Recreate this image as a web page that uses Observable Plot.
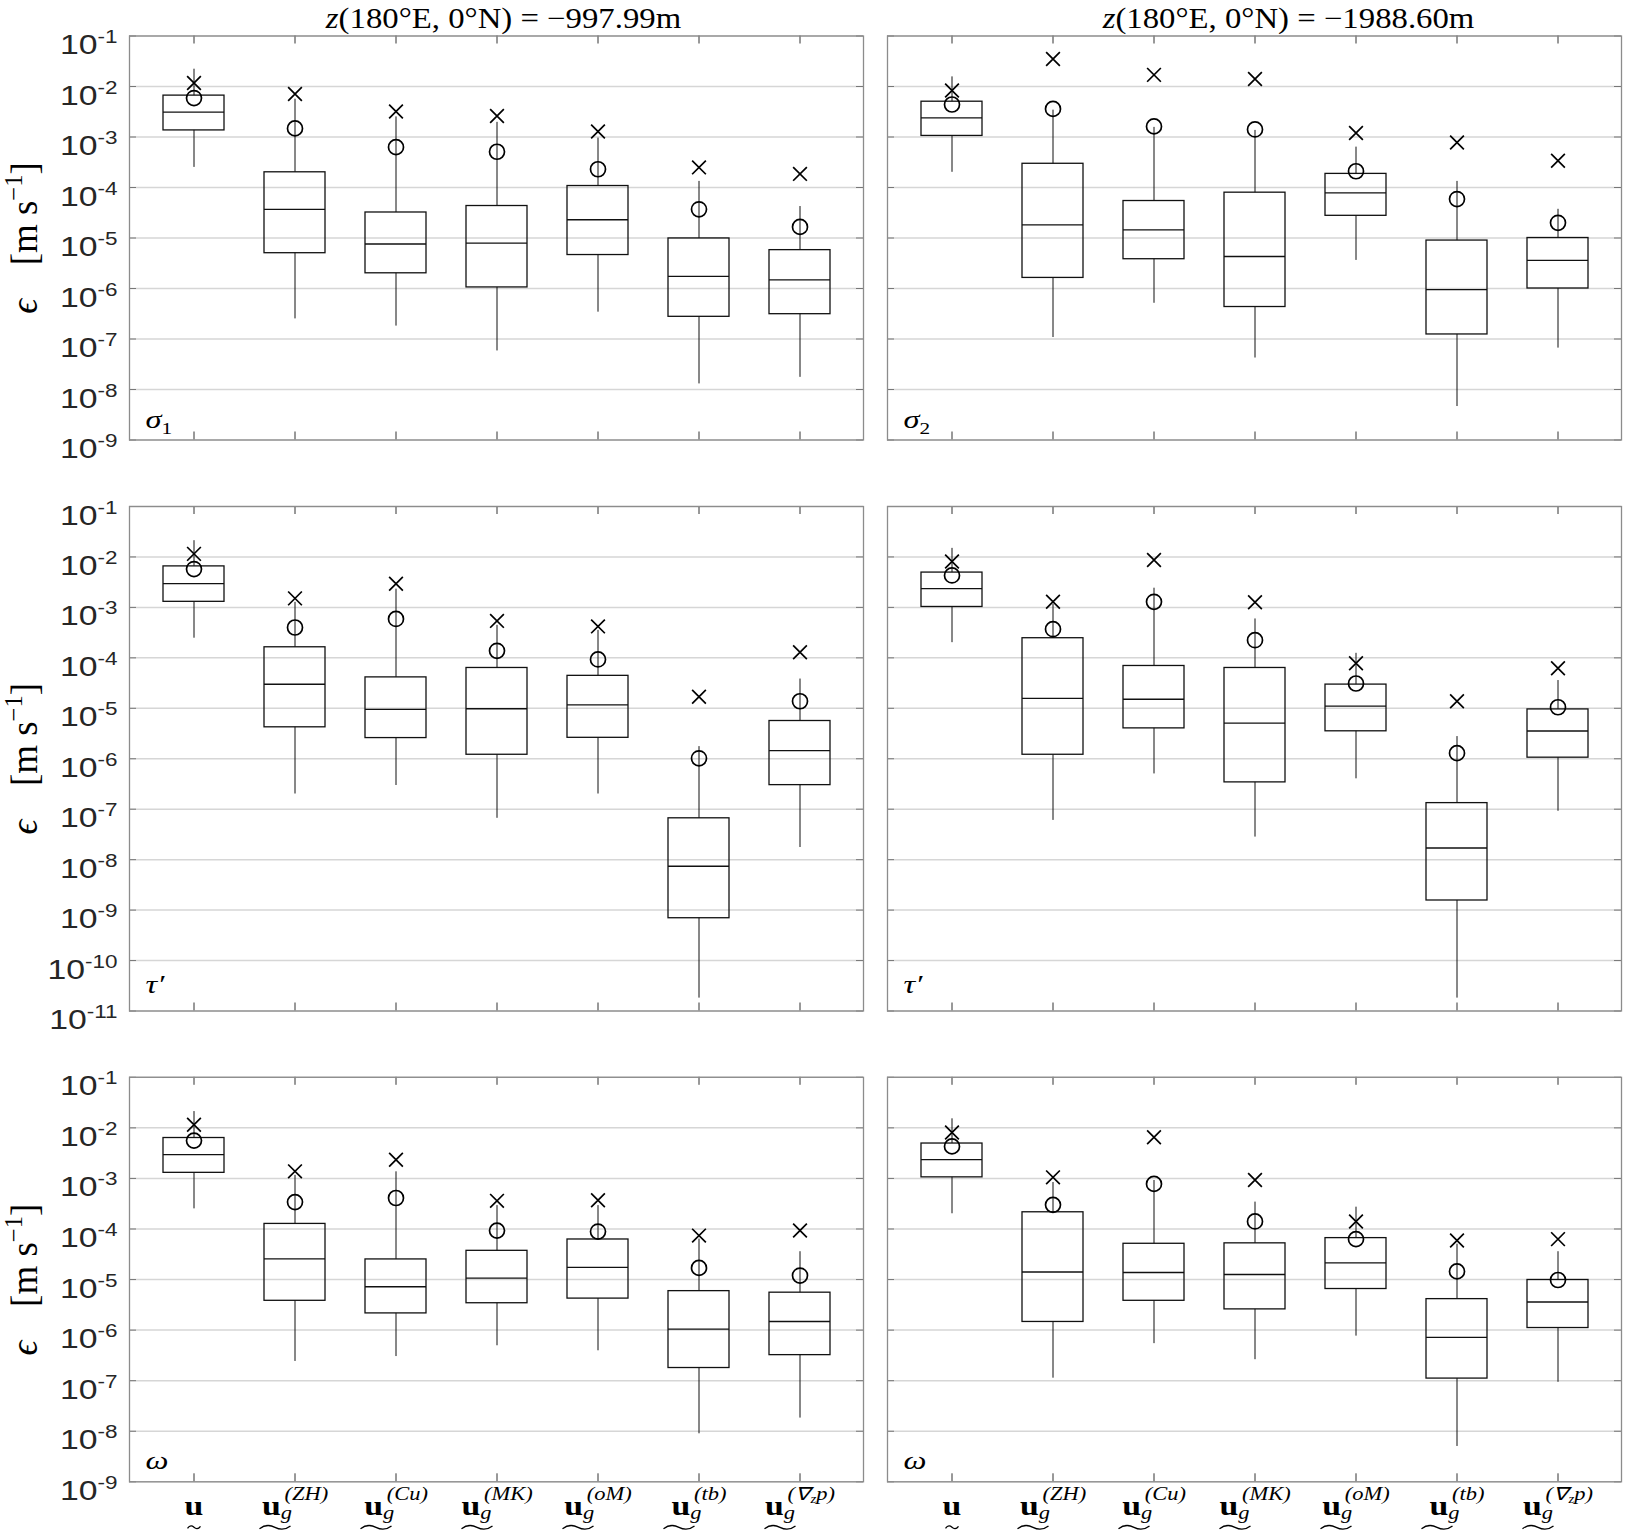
<!DOCTYPE html>
<html>
<head>
<meta charset="utf-8">
<script src="https://cdn.jsdelivr.net/npm/d3@7"></script>
<script src="https://cdn.jsdelivr.net/npm/@observablehq/plot@0.6"></script>
<style>
  body { margin: 0; background: #fff; }
  #fig { position: relative; width: 1628px; height: 1536px; background: #fff; overflow: hidden; }
  #fig svg { position: absolute; overflow: visible; }
</style>
</head>
<body>
<div id="fig"></div>
<script>
// ---------------- categories & labels ----------------
const categories = ["u", "ug(ZH)", "ug(Cu)", "ug(MK)", "ug(oM)", "ug(tb)", "ug(∇zp)"];
const catSub = ["", "g", "g", "g", "g", "g", "g"];
const catSup = ["", "(ZH)", "(Cu)", "(MK)", "(oM)", "(tb)", "(∇zp)"];

const yTicks8 = [1e-1, 1e-2, 1e-3, 1e-4, 1e-5, 1e-6, 1e-7, 1e-8, 1e-9];
const yTickLabels8 = ["10^-1", "10^-2", "10^-3", "10^-4", "10^-5", "10^-6", "10^-7", "10^-8", "10^-9"];
const yTicks10 = [1e-1, 1e-2, 1e-3, 1e-4, 1e-5, 1e-6, 1e-7, 1e-8, 1e-9, 1e-10, 1e-11];
const yTickLabels10 = ["10^-1", "10^-2", "10^-3", "10^-4", "10^-5", "10^-6", "10^-7", "10^-8", "10^-9", "10^-10", "10^-11"];

const titles = ["z(180°E, 0°N) = −997.99m", "z(180°E, 0°N) = −1988.60m"];
const yLabelSymbol = "ϵ";
const yLabelUnit = "m s";
const yLabelExp = "−1";
const yLabel = yLabelSymbol + " [" + yLabelUnit + yLabelExp + "]";
const panelLabels = ["σ1", "σ2", "τ′", "τ′", "ω", "ω"];

// ---------------- data ----------------
// each row: [whisker low, Q1, median, Q3, whisker high, mean (o), max (x)]
const sigma1Shallow = [
  [2.5e-4, 1.35e-3, 3.1e-3, 6.6e-3, 2.2e-2, 5.9e-3, 1.17e-2],
  [2.5e-7, 5.0e-6, 3.7e-5, 2.0e-4, 5.6e-3, 1.48e-3, 7.1e-3],
  [1.8e-7, 2.0e-6, 7.6e-6, 3.2e-5, 2.5e-3, 6.3e-4, 3.2e-3],
  [5.8e-8, 1.05e-6, 7.9e-6, 4.3e-5, 1.95e-3, 5.1e-4, 2.6e-3],
  [3.4e-7, 4.6e-6, 2.3e-5, 1.07e-4, 9.5e-4, 2.3e-4, 1.29e-3],
  [1.29e-8, 2.75e-7, 1.74e-6, 9.8e-6, 1.32e-4, 3.7e-5, 2.5e-4],
  [1.74e-8, 3.1e-7, 1.48e-6, 5.75e-6, 4.2e-5, 1.66e-5, 1.86e-4]
];
const sigma2Deep = [
  [2.0e-4, 1.05e-3, 2.4e-3, 5.0e-3, 1.55e-2, 4.4e-3, 8.3e-3],
  [1.07e-7, 1.62e-6, 1.82e-5, 2.95e-4, 3.4e-3, 3.6e-3, 3.5e-2],
  [5.1e-7, 3.8e-6, 1.45e-5, 5.4e-5, 1.55e-3, 1.62e-3, 1.7e-2],
  [4.2e-8, 4.3e-7, 4.3e-6, 7.9e-5, 1.35e-3, 1.41e-3, 1.41e-2],
  [3.6e-6, 2.75e-5, 7.8e-5, 1.86e-4, 6.3e-4, 2.1e-4, 1.2e-3],
  [4.6e-9, 1.23e-7, 9.5e-7, 8.9e-6, 1.32e-4, 5.9e-5, 7.8e-4],
  [6.6e-8, 1.0e-6, 3.6e-6, 1.0e-5, 3.7e-5, 2.0e-5, 3.4e-4]
];
const tauShallow = [
  [2.45e-4, 1.29e-3, 2.95e-3, 6.5e-3, 2.1e-2, 5.75e-3, 1.15e-2],
  [2.0e-7, 4.2e-6, 3.0e-5, 1.62e-4, 1.26e-3, 4.0e-4, 1.51e-3],
  [2.95e-7, 2.57e-6, 9.5e-6, 4.1e-5, 2.3e-3, 5.9e-4, 2.95e-3],
  [6.6e-8, 1.2e-6, 9.8e-6, 6.3e-5, 4.4e-4, 1.38e-4, 5.4e-4],
  [2.0e-7, 2.6e-6, 1.17e-5, 4.4e-5, 3.5e-4, 9.3e-5, 4.2e-4],
  [1.8e-11, 6.9e-10, 7.4e-9, 6.6e-8, 1.74e-6, 1.02e-6, 1.7e-5],
  [1.74e-8, 3.0e-7, 1.45e-6, 5.6e-6, 3.8e-5, 1.38e-5, 1.29e-4]
];
const tauDeep = [
  [2.0e-4, 1.02e-3, 2.35e-3, 4.9e-3, 1.48e-2, 4.3e-3, 8.1e-3],
  [6.0e-8, 1.2e-6, 1.58e-5, 2.45e-4, 1.15e-3, 3.7e-4, 1.29e-3],
  [5.0e-7, 4.0e-6, 1.51e-5, 6.9e-5, 2.4e-3, 1.29e-3, 8.7e-3],
  [2.8e-8, 3.4e-7, 5.1e-6, 6.3e-5, 5.9e-4, 2.24e-4, 1.26e-3],
  [4.0e-7, 3.5e-6, 1.1e-5, 2.95e-5, 1.23e-4, 3.1e-5, 7.8e-5],
  [1.8e-11, 1.55e-9, 1.7e-8, 1.32e-7, 2.75e-6, 1.29e-6, 1.38e-5],
  [9.1e-8, 1.05e-6, 3.55e-6, 9.5e-6, 3.55e-5, 1.05e-5, 6.2e-5]
];
const omegaShallow = [
  [2.5e-4, 1.29e-3, 2.95e-3, 6.3e-3, 2.1e-2, 5.6e-3, 1.15e-2],
  [2.4e-7, 3.8e-6, 2.57e-5, 1.26e-4, 1.15e-3, 3.4e-4, 1.38e-3],
  [3.0e-7, 2.14e-6, 7.2e-6, 2.5e-5, 1.35e-3, 4.1e-4, 2.35e-3],
  [4.9e-7, 3.4e-6, 1.07e-5, 3.7e-5, 2.9e-4, 9.3e-5, 3.6e-4],
  [3.9e-7, 4.2e-6, 1.74e-5, 6.2e-5, 2.9e-4, 8.9e-5, 3.7e-4],
  [8.9e-9, 1.78e-7, 1.05e-6, 5.9e-6, 6.3e-5, 1.7e-5, 7.4e-5],
  [1.82e-8, 3.2e-7, 1.48e-6, 5.5e-6, 3.55e-5, 1.2e-5, 9.3e-5]
];
const omegaDeep = [
  [2.0e-4, 1.05e-3, 2.35e-3, 4.9e-3, 1.51e-2, 4.3e-3, 8.1e-3],
  [1.12e-7, 1.45e-6, 1.41e-5, 2.14e-4, 8.3e-4, 3.0e-4, 1.05e-3],
  [5.4e-7, 3.8e-6, 1.38e-5, 5.1e-5, 9.1e-4, 7.8e-4, 6.5e-3],
  [2.6e-7, 2.57e-6, 1.26e-5, 5.2e-5, 3.4e-4, 1.41e-4, 9.3e-4],
  [7.6e-7, 6.5e-6, 2.14e-5, 6.6e-5, 2.7e-4, 6.3e-5, 1.41e-4],
  [5.0e-9, 1.1e-7, 7.2e-7, 4.1e-6, 5.0e-5, 1.45e-5, 5.9e-5],
  [9.3e-8, 1.1e-6, 3.6e-6, 9.8e-6, 3.55e-5, 9.8e-6, 6.3e-5]
];

// ---------------- layout ----------------
const S = 1.25; // horizontal text stretch of the original figure
const colGeom = [
  {left: 0, width: 875, ml: 129, mr: 12, titleDx: 7},
  {left: 875, width: 753, ml: 12, mr: 7, titleDx: 34}
];
const rowGeom = [
  {top: 0, height: 470, mt: 35.5, mb: 30.5, ticks: yTicks8, tickLabels: yTickLabels8, labelDy: -12},
  {top: 470, height: 570, mt: 36, mb: 29.5, ticks: yTicks10, tickLabels: yTickLabels10, labelDy: -18},
  {top: 1040, height: 496, mt: 36.8, mb: 54.7, ticks: yTicks8, tickLabels: yTickLabels8, labelDy: -13}
];
const panels = [
  {rows: sigma1Shallow, label: panelLabels[0], col: 0, row: 0},
  {rows: sigma2Deep, label: panelLabels[1], col: 1, row: 0},
  {rows: tauShallow, label: panelLabels[2], col: 0, row: 1},
  {rows: tauDeep, label: panelLabels[3], col: 1, row: 1},
  {rows: omegaShallow, label: panelLabels[4], col: 0, row: 2},
  {rows: omegaDeep, label: panelLabels[5], col: 1, row: 2}
];

// under-tilde accent drawn as a custom symbol (wave), half-width = r
function tildeSymbol(aspect) {
  return {
    draw(ctx, size) {
      const w = Math.sqrt(size / Math.PI);
      const a = w * aspect;
      ctx.moveTo(-w, a * 0.6);
      ctx.bezierCurveTo(-w * 0.62, -a * 1.35, -w * 0.28, -a * 0.95, 0, 0);
      ctx.bezierCurveTo(w * 0.28, a * 0.95, w * 0.62, a * 1.35, w, -a * 0.6);
    }
  };
}

const SVGNS = "http://www.w3.org/2000/svg";
function rich(el, parts) {
  while (el.firstChild) el.removeChild(el.firstChild);
  let rise = 0;
  for (const p of parts) {
    const ts = document.createElementNS(SVGNS, "tspan");
    const r = p.rise || 0;
    const dy = r - rise;
    if (dy) ts.setAttribute("dy", dy);
    if (p.dx) ts.setAttribute("dx", p.dx);
    if (p.size) ts.setAttribute("font-size", p.size);
    if (p.italic) ts.setAttribute("font-style", "italic");
    if (p.bold) ts.setAttribute("font-weight", "bold");
    ts.textContent = p.t;
    el.appendChild(ts);
    rise = r;
  }
}
function applyScale(t, sc) {
  let tr = t.getAttribute("transform");
  if (!tr) {
    const x = parseFloat(t.getAttribute("x")) || 0;
    t.removeAttribute("x");
    tr = `translate(${x},0)`;
  }
  t.setAttribute("transform", tr + " " + sc);
}
function finish(svg) {
  svg.querySelectorAll("text").forEach(t => {
    const s = t.textContent;
    let sc = `scale(${S},1)`;
    if (s.startsWith("10^")) {
      rich(t, [{t: "10"}, {t: s.slice(3), size: 18, rise: -11}]);
    } else if (categories.includes(s)) {
      const i = categories.indexOf(s);
      const parts = [{t: "u", bold: true}];
      if (catSub[i]) {
        parts.push({t: catSub[i], italic: true, size: 18, rise: 4});
        const sup = catSup[i];
        if (sup.includes("∇")) {
          const k = sup.indexOf("∇");
          parts.push({t: sup.slice(0, k + 1), italic: true, size: 18, rise: -15, dx: -6});
          parts.push({t: sup.slice(k + 1, k + 2), italic: true, size: 12, rise: -12});
          parts.push({t: sup.slice(k + 2), italic: true, size: 18, rise: -15});
        } else {
          parts.push({t: sup, italic: true, size: 18, rise: -15, dx: -6});
        }
      }
      rich(t, parts);
    } else if (titles.includes(s)) {
      rich(t, [{t: s[0], italic: true}, {t: s.slice(1)}]);
      sc = "scale(1.13,1)";
    } else if (s === yLabel) {
      rich(t, [
        {t: yLabelSymbol, italic: true},
        {t: "[" + yLabelUnit, dx: 30},
        {t: yLabelExp, size: 22, rise: -13},
        {t: "]", rise: 0}
      ]);
      sc = "scale(1.12,1.12)";
    } else if (panelLabels.includes(s)) {
      const m = s.match(/^(.)(\d)$/);
      if (m) rich(t, [{t: m[1], italic: true}, {t: m[2], size: 17, rise: 6}]);
      else rich(t, [{t: s, italic: true}]);
    }
    applyScale(t, sc);
  });
}

const fig = document.getElementById("fig");
panels.forEach(p => {
  const c = colGeom[p.col], r = rowGeom[p.row];
  const H = r.height - r.mt - r.mb;
  const Wf = c.width - c.ml - c.mr;
  const data = p.rows.map((v, i) => ({
    cat: categories[i], lo: v[0], q1: v[1], med: v[2], q3: v[3], hi: v[4], mean: v[5], max: v[6]
  }));
  const ink = "#111";
  const marks = [
    Plot.ruleY(r.ticks, {y: d => d, stroke: "#d6d6d6", strokeWidth: 1.5}),
    Plot.ruleY(r.ticks, {y: d => d, insetRight: Wf - 7, stroke: "#777", strokeWidth: 1}),
    Plot.ruleY(r.ticks, {y: d => d, insetLeft: Wf - 7, stroke: "#777", strokeWidth: 1}),
    Plot.ruleX(categories, {x: d => d, insetBottom: H - 8, stroke: "#333", strokeWidth: 1}),
    Plot.ruleX(categories, {x: d => d, insetTop: H - 8, stroke: "#333", strokeWidth: 1}),
    Plot.frame({stroke: "#8c8c8c", strokeWidth: 1.3}),
    Plot.ruleX(data, {x: "cat", y1: "lo", y2: "q1", stroke: ink, strokeWidth: 1}),
    Plot.ruleX(data, {x: "cat", y1: "q3", y2: "hi", stroke: ink, strokeWidth: 1}),
    Plot.barY(data, {x: "cat", y1: "q1", y2: "q3", fill: "none", stroke: ink, strokeWidth: 1.3}),
    Plot.tickY(data, {x: "cat", y: "med", stroke: ink, strokeWidth: 1.3}),
    Plot.dot(data, {x: "cat", y: "mean", r: 7.5, stroke: "#000", fill: "none", strokeWidth: 1.7}),
    Plot.dot(data, {x: "cat", y: "max", symbol: "times", r: 6.3, stroke: "#000", strokeWidth: 1.7}),
    Plot.text([p.label], {text: d => d, frameAnchor: "bottom-left", dx: 16, dy: r.labelDy,
      textAnchor: "start", lineAnchor: "bottom", fontSize: 26, fontFamily: "Liberation Serif", fill: "#000"})
  ];
  if (p.col === 0) {
    marks.push(Plot.text(r.ticks, {y: d => d, text: (d, i) => r.tickLabels[i], frameAnchor: "left",
      dx: -12, dy: 18, textAnchor: "end", lineAnchor: "bottom", fontSize: 27,
      fontFamily: "Liberation Sans", fill: "#262626"}));
    marks.push(Plot.text([yLabel], {text: d => d, frameAnchor: "left", dx: -93, rotate: -90,
      textAnchor: "middle", lineAnchor: "bottom", fontSize: 33, fontFamily: "Liberation Serif", fill: "#000"}));
  }
  if (p.row === 0) {
    marks.push(Plot.text([titles[p.col]], {text: d => d, frameAnchor: "top", dx: c.titleDx, dy: -8,
      textAnchor: "middle", lineAnchor: "bottom", fontSize: 29, fontFamily: "Liberation Serif", fill: "#000"}));
  }
  if (p.row === 2) {
    marks.push(Plot.text(categories, {x: d => d, text: d => d, frameAnchor: "bottom", dy: 33,
      textAnchor: "middle", lineAnchor: "bottom", fontSize: 27, fontFamily: "Liberation Serif", fill: "#000"}));
    marks.push(Plot.dot(categories, {filter: (d, i) => !catSub[i], x: d => d, frameAnchor: "bottom",
      dy: 45.5, symbol: tildeSymbol(0.26), r: 6.5, fill: "none", stroke: "#000", strokeWidth: 1.3}));
    marks.push(Plot.dot(categories, {filter: (d, i) => !!catSub[i], x: d => d, frameAnchor: "bottom",
      dx: -20, dy: 45.5, symbol: tildeSymbol(0.15), r: 15.5, fill: "none", stroke: "#000", strokeWidth: 1.3}));
  }
  const svg = Plot.plot({
    width: c.width,
    height: r.height,
    marginLeft: c.ml,
    marginRight: c.mr,
    marginTop: r.mt,
    marginBottom: r.mb,
    x: {type: "band", domain: categories, paddingInner: 0.4, paddingOuter: 0.3, axis: null},
    y: {type: "log", domain: [r.ticks[r.ticks.length - 1], r.ticks[0]], axis: null},
    style: {background: "transparent", overflow: "visible"},
    marks
  });
  finish(svg);
  svg.style.position = "absolute";
  svg.style.left = c.left + "px";
  svg.style.top = r.top + "px";
  fig.appendChild(svg);
});
</script>
</body>
</html>
